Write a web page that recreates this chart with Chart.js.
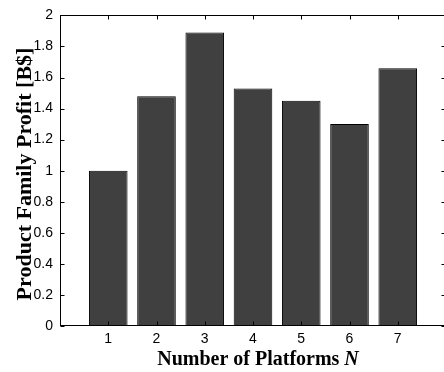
<!DOCTYPE html>
<html lang="en">
<head>
<meta charset="UTF-8">
<title>Product Family Profit</title>
<script src="https://cdn.jsdelivr.net/npm/chart.js"></script>
<style>
  html, body { margin: 0; padding: 0; background: #fff; overflow: hidden; }
</style>
</head>
<body>
<canvas id="profit-chart" width="450" height="372"></canvas>
<script>
// data
const platforms = [1, 2, 3, 4, 5, 6, 7];
const profit = [1.00, 1.48, 1.89, 1.53, 1.45, 1.30, 1.66];
const yTicks = [0, 0.2, 0.4, 0.6, 0.8, 1, 1.2, 1.4, 1.6, 1.8, 2];
const xTitle = 'Number of Platforms ';
const xTitleVar = 'N';
const yTitle = 'Product Family Profit [B$]';

// frame + inward ticks on all four sides, plus the serif axis titles
const framePlugin = {
    id: 'frame',
    afterDatasetsDraw(chart) {
        const { ctx, chartArea: a, scales } = chart;
        const L = Math.round(a.left) + 0.5, R = Math.round(a.right) - 0.5;
        const T = Math.round(a.top) + 0.5, B = Math.round(a.bottom) - 0.5;
        ctx.save();
        ctx.strokeStyle = '#000';
        ctx.lineWidth = 1;
        ctx.strokeRect(L, T, R - L, B - T);
        ctx.beginPath();
        yTicks.forEach(v => {
            const y = Math.round(scales.y.getPixelForValue(v)) + 0.5;
            ctx.moveTo(L, y); ctx.lineTo(L + 4, y);
            ctx.moveTo(R, y); ctx.lineTo(R - 4, y);
        });
        platforms.forEach(v => {
            const x = Math.round(scales.x.getPixelForValue(v)) + 0.5;
            ctx.moveTo(x, B); ctx.lineTo(x, B - 4);
            ctx.moveTo(x, T); ctx.lineTo(x, T + 4);
        });
        ctx.stroke();
        ctx.restore();
    },
    afterDraw(chart) {
        const ctx = chart.ctx;
        ctx.save();
        ctx.fillStyle = '#000';
        ctx.textBaseline = 'alphabetic';

        // x title with italic N
        const f1 = 'bold 20px "Liberation Serif", "Times New Roman", serif';
        const f2 = 'italic bold 20px "Liberation Serif", "Times New Roman", serif';
        ctx.font = f1;
        const w1 = ctx.measureText(xTitle).width;
        ctx.font = f2;
        const w2 = ctx.measureText(xTitleVar).width;
        let x0 = 258 - (w1 + w2) / 2;
        ctx.font = f1;
        ctx.textAlign = 'left';
        ctx.fillText(xTitle, x0, 365);
        ctx.font = f2;
        ctx.fillText(xTitleVar, x0 + w1, 365);

        // y title
        ctx.translate(31, 174);
        ctx.rotate(-Math.PI / 2);
        ctx.font = 'bold 22px "Liberation Serif", "Times New Roman", serif';
        ctx.textAlign = 'center';
        ctx.fillText(yTitle, 0, 0);
        ctx.restore();
    }
};

const ctx = document.getElementById('profit-chart').getContext('2d');
new Chart(ctx, {
    type: 'bar',
    data: {
        datasets: [{
            data: platforms.map((p, i) => ({ x: p, y: profit[i] })),
            backgroundColor: '#404040',
            borderColor: '#000',
            borderWidth: 1,
            barPercentage: 0.8,
            categoryPercentage: 1.0
        }]
    },
    options: {
        responsive: false,
        animation: false,
        layout: { padding: { top: 13, right: 4, left: 0, bottom: 0 } },
        plugins: {
            legend: { display: false },
            tooltip: { enabled: false }
        },
        scales: {
            x: {
                type: 'linear',
                min: 0,
                max: 8,
                offset: false,
                afterBuildTicks: s => { s.ticks = platforms.map(v => ({ value: v })); },
                afterFit: s => { s.height = 46; },
                grid: { display: false, drawTicks: false, offset: false },
                border: { display: false },
                ticks: {
                    color: '#000',
                    padding: 5,
                    maxRotation: 0,
                    font: { family: '"Liberation Sans", Arial, sans-serif', size: 14 }
                }
            },
            y: {
                min: 0,
                max: 2,
                afterBuildTicks: s => { s.ticks = yTicks.map(v => ({ value: v })); },
                afterFit: s => { s.width = 60; },
                grid: { display: false, drawTicks: false },
                border: { display: false },
                ticks: {
                    color: '#000',
                    padding: 7,
                    callback: v => String(+v.toFixed(1)),
                    font: { family: '"Liberation Sans", Arial, sans-serif', size: 14 }
                }
            }
        }
    },
    plugins: [framePlugin]
});
</script>
</body>
</html>
